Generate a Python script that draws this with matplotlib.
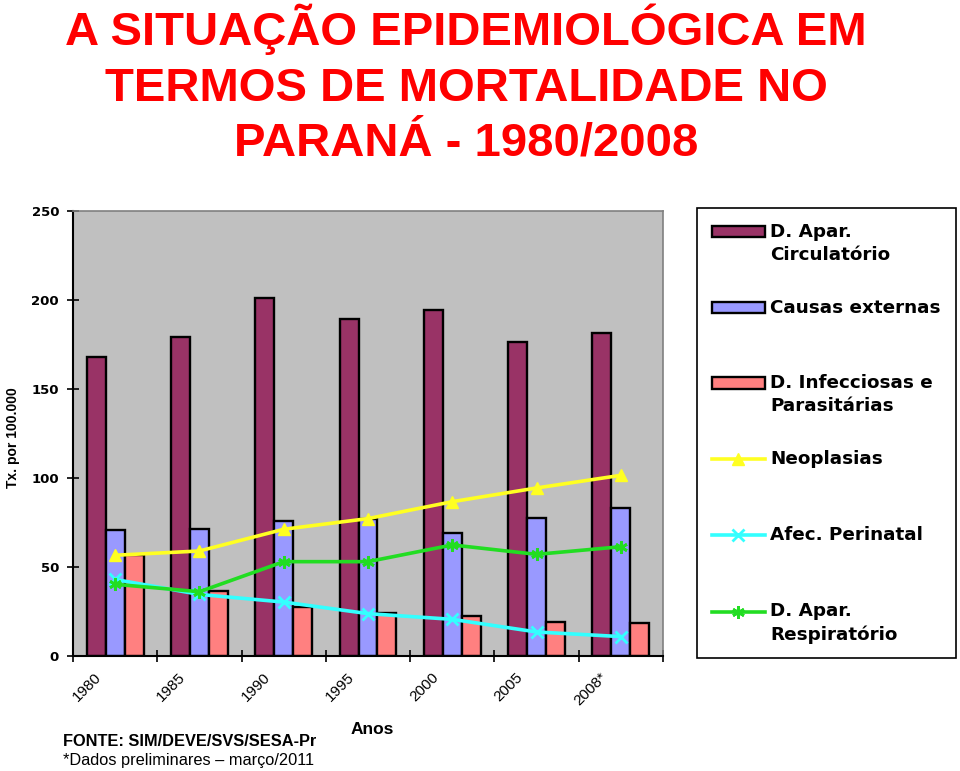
"""
Mortality rates by cause of death in Paraná, 1980-2008.

Grouped bars (three causes) with three overlaid line series, Excel-style
gray plot area and a boxed legend on the right side of the figure.
"""

import matplotlib
matplotlib.use('Agg')
import matplotlib.pyplot as plt
import matplotlib.patches as mpatches
from matplotlib.legend_handler import HandlerPatch, HandlerLine2D
from matplotlib.transforms import ScaledTranslation
import numpy as np

# Data (rates per 100.000 inhabitants)
years = ['1980', '1985', '1990', '1995', '2000', '2005', '2008*']
circulatorio = [167.8, 179.4, 201.1, 189.1, 194.2, 176.4, 181.3]
externas = [70.6, 71.2, 75.7, 77.2, 68.9, 77.5, 83.1]
infecciosas = [56.6, 36.3, 27.5, 24.0, 22.3, 19.1, 18.5]
neoplasias = [56.6, 59.0, 71.2, 77.2, 86.7, 94.4, 101.5]
perinatal = [43.0, 34.6, 30.3, 23.8, 20.6, 13.5, 10.9]
respiratorio = [40.3, 36.1, 53.0, 53.0, 62.4, 57.1, 61.4]

yticks = [0, 50, 100, 150, 200, 250]

title_lines = ['A SITUAÇÃO EPIDEMIOLÓGICA EM',
               'TERMOS DE MORTALIDADE NO',
               'PARANÁ - 1980/2008']

# every entry takes two lines so that the legend rows are evenly stepped
labels = ['D. Apar.\nCirculatório', 'Causas externas\n ',
          'D. Infecciosas e\nParasitárias', 'Neoplasias\n ',
          'Afec. Perinatal\n ', 'D. Apar.\nRespiratório']

W, H = 960, 771
fig = plt.figure(figsize=(W / 100, H / 100), dpi=100)
ax = fig.add_axes([73 / W, 1 - 656 / H, 590 / W, 445 / H])
ax.set_facecolor('#c0c0c0')

x = np.arange(len(years))
bw = 0.225

b1 = ax.bar(x - bw, circulatorio, bw, color='#993366', edgecolor='black', linewidth=1.7, zorder=2)
b2 = ax.bar(x, externas, bw, color='#9999ff', edgecolor='black', linewidth=1.7, zorder=2)
b3 = ax.bar(x + bw, infecciosas, bw, color='#ff8080', edgecolor='black', linewidth=1.7, zorder=2)

l1, = ax.plot(x, neoplasias, color='#ffff22', lw=2.6, marker='^', ms=8, zorder=3)
l2, = ax.plot(x, perinatal, color='#33ffff', lw=2.6, marker='x', ms=8, mew=2, zorder=3)
l3, = ax.plot(x, respiratorio, color='#22dd22', lw=2.6, marker=(6, 2, 0), ms=9, mew=2, zorder=3)

# Axis limits and ticks
ax.set_xlim(-0.5, len(years) - 0.5)
ax.set_ylim(0, 250)
ax.set_yticks(yticks)
ax.set_yticklabels([str(v) for v in yticks], fontsize=9.5, fontweight='bold', family='DejaVu Sans')
ax.tick_params(axis='y', direction='inout', length=8, width=1.2, pad=6)

ax.set_xticks(x)
ax.set_xticklabels(years, rotation=45, ha='right', va='top', fontsize=11, family='Liberation Sans')
ax.set_xticks(np.arange(len(years) + 1) - 0.5, minor=True)
ax.tick_params(axis='x', which='major', length=0, pad=10)
ax.tick_params(axis='x', which='minor', direction='inout', length=8, width=1.2)
for lab in ax.get_xticklabels():
    lab.set_transform(lab.get_transform() + ScaledTranslation(-0.11, 0, fig.dpi_scale_trans))

for side in ['left', 'bottom']:
    ax.spines[side].set_color('black')
    ax.spines[side].set_linewidth(1.5)
for side in ['top', 'right']:
    ax.spines[side].set_color('#808080')
    ax.spines[side].set_linewidth(1.2)

ax.set_ylabel('Tx. por 100.000', fontsize=10, fontweight='bold', family='Liberation Sans')
ax.yaxis.set_label_coords(-53 / 590, 0.49)
fig.text(372 / W, 1 - 729 / H, 'Anos', ha='center', va='center', fontsize=12.5,
         fontweight='bold', family='Liberation Sans')

# Title
for txt, base in zip(title_lines, [45, 101, 156]):
    fig.text(466 / W, 1 - base / H, txt, ha='center', va='baseline', color='#ff0000',
             fontsize=34, fontweight='bold', family='Liberation Sans')

# Source notes
fig.text(63 / W, 1 - 741 / H, 'FONTE: SIM/DEVE/SVS/SESA-Pr', ha='left', va='center',
         fontsize=11.8, fontweight='bold', family='Liberation Sans')
fig.text(63 / W, 1 - 760 / H, '*Dados preliminares \u2013 março/2011', ha='left', va='center',
         fontsize=11.8, family='Liberation Sans')


# Legend handles sit on the first text line of each entry
LEG_FS = 13.2
LEG_LS = 1.36
SHIFT = 0.5 * LEG_LS * LEG_FS * 0.98


def top_patch(legend, orig_handle, xdescent, ydescent, width, height, fontsize):
    return mpatches.Rectangle((-xdescent, -ydescent + SHIFT), width, height)


class TopLine(HandlerLine2D):
    def create_artists(self, legend, orig_handle, xdescent, ydescent, width, height, fontsize, trans):
        arts = super().create_artists(legend, orig_handle, xdescent, ydescent, width, height, fontsize, trans)
        for a in arts:
            a.set_ydata(np.asarray(a.get_ydata()) + SHIFT)
        return arts


handles = [b1.patches[0], b2.patches[0], b3.patches[0], l1, l2, l3]
hmap = {b1.patches[0]: HandlerPatch(patch_func=top_patch),
        b2.patches[0]: HandlerPatch(patch_func=top_patch),
        b3.patches[0]: HandlerPatch(patch_func=top_patch),
        l1: TopLine(), l2: TopLine(), l3: TopLine()}
leg = fig.legend(handles, labels, handler_map=hmap, loc='upper left',
                 bbox_to_anchor=(697 / W, 1 - 208 / H), fancybox=False, framealpha=1,
                 edgecolor='black', prop={'family': 'DejaVu Sans', 'weight': 'bold', 'size': LEG_FS},
                 handlelength=2.9, handleheight=0.6, handletextpad=0.3, labelspacing=1.9,
                 borderpad=0.8, borderaxespad=0, markerscale=1.0)
for t in leg.get_texts():
    t.set_linespacing(LEG_LS)
leg.get_frame().set_linewidth(1.2)

fig.savefig('out.png', dpi=100)
